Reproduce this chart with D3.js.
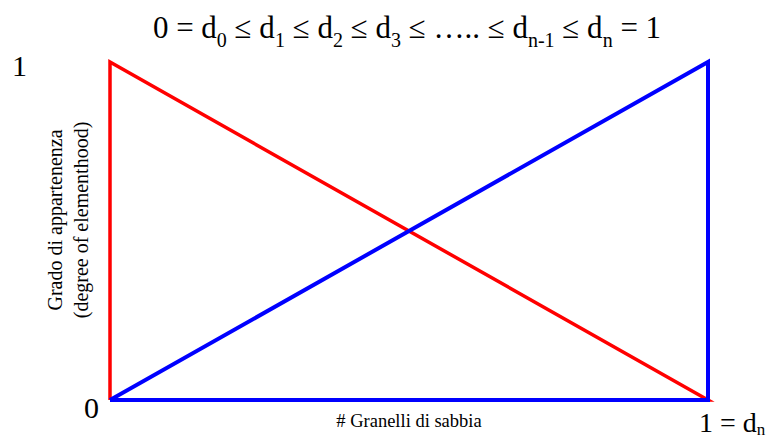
<!DOCTYPE html>
<html>
<head>
<meta charset="utf-8">
<script src="https://cdn.jsdelivr.net/npm/d3@7"></script>
<style>
  body { margin: 0; background: #fff; }
  text { font-family: "Liberation Serif", "DejaVu Serif", serif; fill: #000; }
</style>
</head>
<body>
<svg></svg>
<script>
// membership lines: x = grains fraction, y = degree of membership
var redX = [0, 0, 1, 0];
var redY = [0, 1, 0, 0];
var blueX = [0, 1, 1, 0];
var blueY = [0, 1, 0, 0];

// title pieces: [text, subscript]
var titleParts = [["0 = d", "0"], [" \u2264 d", "1"], [" \u2264 d", "2"], [" \u2264 d", "3"],
                  [" \u2264 \u2026.. \u2264 d", "n-1"], [" \u2264 d", "n"], [" = 1", ""]];
var yTickLabels = ["0", "1"];
var xEndLabel = ["1 = d", "n"];
var xTitle = "# Granelli di sabbia";
var yTitle = ["Grado di appartenenza", "(degree of elementhood)"];

var svgWidth = 776;
var svgHeight = 441;

var svg = d3.select("svg")
    .attr("width", svgWidth)
    .attr("height", svgHeight);

var xScale = d3.scaleLinear()
    .domain([0, 1])
    .range([110, 708]);

var yScale = d3.scaleLinear()
    .domain([0, 1])
    .range([400, 62]);

var line = d3.line()
    .x(function(d) { return xScale(d[0]); })
    .y(function(d) { return yScale(d[1]); });

svg.append("path")
    .datum(d3.zip(redX, redY))
    .attr("d", line)
    .attr("fill", "none")
    .attr("stroke", "#ff0000")
    .attr("stroke-width", 3.5);

svg.append("path")
    .datum(d3.zip(blueX, blueY))
    .attr("d", line)
    .attr("fill", "none")
    .attr("stroke", "#0000ff")
    .attr("stroke-width", 4);

// title
var title = svg.append("text")
    .attr("x", 407)
    .attr("y", 38)
    .attr("text-anchor", "middle")
    .style("font-size", "31px");

var shift = 0;
titleParts.forEach(function(p) {
    title.append("tspan").attr("dy", -shift).text(p[0]);
    shift = 0;
    if (p[1]) {
        title.append("tspan").attr("dy", 9).style("font-size", "20px").text(p[1]);
        shift = 9;
    }
});

// y tick labels
svg.append("text")
    .attr("x", 12)
    .attr("y", 76)
    .style("font-size", "30px")
    .text(yTickLabels[1]);

svg.append("text")
    .attr("x", 84)
    .attr("y", 418)
    .style("font-size", "30px")
    .text(yTickLabels[0]);

// x end label
var endLab = svg.append("text")
    .attr("x", 699)
    .attr("y", 432)
    .style("font-size", "28px");
endLab.append("tspan").text(xEndLabel[0]);
endLab.append("tspan").attr("dy", 3).style("font-size", "17px").text(xEndLabel[1]);

// axis titles
svg.append("text")
    .attr("x", xScale(0.5))
    .attr("y", 427)
    .attr("text-anchor", "middle")
    .style("font-size", "18.5px")
    .text(xTitle);

yTitle.forEach(function(t, i) {
    svg.append("text")
        .attr("transform", "translate(" + (62 + i * 26) + ",220) rotate(-90)")
        .attr("text-anchor", "middle")
        .style("font-size", "20px")
        .text(t);
});
</script>
</body>
</html>
